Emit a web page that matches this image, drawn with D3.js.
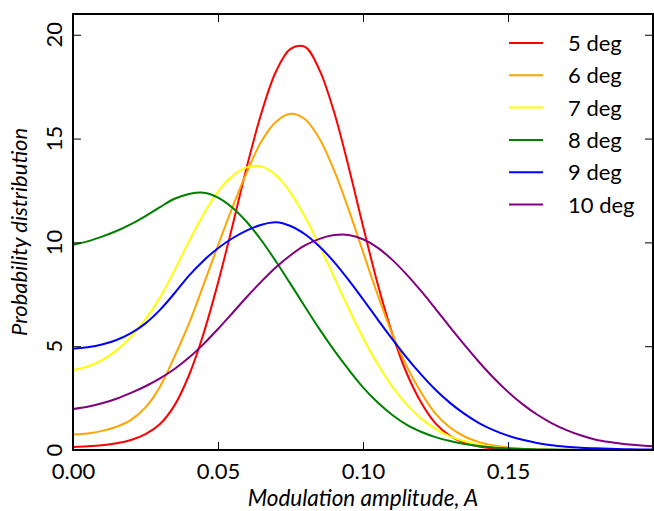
<!DOCTYPE html>
<html>
<head>
<meta charset="utf-8">
<script src="https://cdn.jsdelivr.net/npm/d3@7"></script>
<style>
  html, body { margin: 0; padding: 0; background: #fff; }
  svg { display: block; }
  text { font-family: Lato, "DejaVu Sans", sans-serif; fill: #000; }
</style>
</head>
<body>
<svg id="chart" width="654" height="511"></svg>
<script>
// ---- data ----
const amplitude = [0,0.005,0.01,0.015,0.02,0.025,0.03,0.035,0.04,0.045,0.05,0.055,0.06,0.065,0.07,0.075,0.08,0.085,0.09,0.095,0.1,0.105,0.11,0.115,0.12,0.125,0.13,0.135,0.14,0.145,0.15,0.155,0.16,0.165,0.17,0.175,0.18,0.185,0.19,0.195,0.2];
const deg5  = [0.15,0.18,0.23,0.32,0.48,0.76,1.25,2.15,3.6,5.6,8.05,10.8,13.67,16.24,18.23,19.32,19.42,18.3,16.29,13.66,10.79,8.03,5.64,3.72,2.3,1.28,0.68,0.35,0.17,0.08,0.04,0.02,0.01,0.005,0,0,0,0,0,0,0];
const deg6  = [0.75,0.8,0.92,1.12,1.45,2.05,3.05,4.5,6.1,7.95,9.85,11.7,13.4,14.87,15.81,16.19,15.93,14.99,13.48,11.6,9.54,7.5,5.63,4.05,2.78,1.75,1.08,0.65,0.38,0.22,0.12,0.06,0.03,0.015,0.008,0.004,0,0,0,0,0];
const deg7  = [3.85,4.02,4.33,4.8,5.45,6.3,7.35,8.65,10.05,11.35,12.45,13.2,13.62,13.66,13.23,12.4,11.23,9.84,8.34,6.83,5.41,4.15,3.07,2.2,1.52,1.02,0.66,0.42,0.25,0.15,0.08,0.045,0.025,0.012,0.006,0.003,0,0,0,0,0];
const deg8  = [9.89,10.05,10.28,10.55,10.88,11.27,11.7,12.1,12.33,12.39,12.16,11.67,10.97,10.09,9.08,8.0,6.9,5.82,4.81,3.88,3.02,2.3,1.7,1.22,0.88,0.62,0.43,0.29,0.19,0.12,0.08,0.05,0.03,0.02,0.01,0.005,0,0,0,0,0];
const deg9  = [4.88,4.95,5.08,5.3,5.63,6.1,6.75,7.55,8.4,9.12,9.72,10.2,10.58,10.85,10.97,10.79,10.39,9.8,9.06,8.19,7.26,6.3,5.36,4.46,3.64,2.9,2.27,1.74,1.3,0.96,0.69,0.49,0.34,0.23,0.16,0.11,0.08,0.055,0.04,0.03,0.02];
const deg10 = [1.97,2.08,2.25,2.47,2.75,3.07,3.45,3.9,4.45,5.1,5.83,6.6,7.38,8.12,8.8,9.38,9.85,10.17,10.35,10.36,10.15,9.75,9.17,8.46,7.66,6.8,5.92,5.06,4.24,3.48,2.8,2.21,1.71,1.3,0.97,0.71,0.51,0.38,0.29,0.23,0.18];

const seriesNames  = ["5 deg","6 deg","7 deg","8 deg","9 deg","10 deg"];
const seriesValues = [deg5, deg6, deg7, deg8, deg9, deg10];
const seriesColors = ["#ff0000","#ffa500","#ffff00","#008000","#0000ff","#800080"];

const xTicks = [0, 0.05, 0.10, 0.15];
const xTickLabels = ["0.00","0.05","0.10","0.15"];
const yTicks = [0, 5, 10, 15, 20];
const yTickLabels = ["0","5","10","15","20"];
const xLabel = "Modulation amplitude, A";
const yLabel = "Probability distribution";

// ---- layout ----
const svg = d3.select("#chart");
const L = 73, R = 653, T = 14, B = 450;
const x = d3.scaleLinear().domain([0, 0.2]).range([L, R]);
const y = d3.scaleLinear().domain([0, 21]).range([B, T]);

svg.append("defs").append("clipPath").attr("id","clip")
  .append("rect").attr("x", L).attr("y", T).attr("width", R - L).attr("height", B - T);

// curves
const line = d3.line()
  .x((d, i) => x(amplitude[i]))
  .y(d => y(d))
  .curve(d3.curveCatmullRom.alpha(0.5));

const g = svg.append("g").attr("clip-path","url(#clip)");
seriesValues.forEach((vals, k) => {
  g.append("path")
    .attr("d", line(vals))
    .attr("fill","none")
    .attr("stroke", seriesColors[k])
    .attr("stroke-width", 2);
});

// ticks (inward, all four sides)
const tickLen = 8;
const axisBottom = d3.axisBottom(x).tickValues(xTicks).tickSizeInner(-tickLen).tickSizeOuter(0)
  .tickFormat((d, i) => xTickLabels[i]).tickPadding(13);
const axisTop = d3.axisTop(x).tickValues(xTicks).tickSizeInner(-tickLen).tickSizeOuter(0).tickFormat("");
const axisLeft = d3.axisLeft(y).tickValues(yTicks).tickSizeInner(-tickLen).tickSizeOuter(0).tickFormat("");
const axisRight = d3.axisRight(y).tickValues(yTicks).tickSizeInner(-tickLen).tickSizeOuter(0).tickFormat("");

function styleAxis(sel) {
  sel.select(".domain").remove();
  sel.selectAll(".tick line").attr("stroke","#000").attr("stroke-width",1);
}
const gb = svg.append("g").attr("transform",`translate(0,${B})`).call(axisBottom).call(styleAxis);
gb.selectAll(".tick text").attr("font-size", 22).attr("font-family","Lato").attr("fill","#000");
svg.append("g").attr("transform",`translate(0,${T})`).call(axisTop).call(styleAxis);
svg.append("g").attr("transform",`translate(${L},0)`).call(axisLeft).call(styleAxis);
svg.append("g").attr("transform",`translate(${R},0)`).call(axisRight).call(styleAxis);

// rotated y tick labels
svg.append("g").selectAll("text").data(yTicks).join("text")
  .attr("transform", d => `translate(62,${y(d)}) rotate(-90)`)
  .attr("text-anchor","middle")
  .attr("font-size", 22)
  .text((d, i) => yTickLabels[i]);

// frame
svg.append("rect").attr("x", L).attr("y", T).attr("width", R - L).attr("height", B - T)
  .attr("fill","none").attr("stroke","#000").attr("stroke-width",2);

// axis labels
svg.append("text").attr("x", (L + R) / 2).attr("y", 505.5)
  .attr("text-anchor","middle").attr("font-size", 22.5).attr("font-style","italic")
  .text(xLabel);
svg.append("text").attr("transform", `translate(27,${(T + B) / 2}) rotate(-90)`)
  .attr("text-anchor","middle").attr("font-size", 22).attr("font-style","italic")
  .text(yLabel);

// legend
const legY0 = 43, legDY = 32.3;
const leg = svg.append("g");
seriesNames.forEach((name, k) => {
  const yy = legY0 + k * legDY;
  leg.append("line").attr("x1", 509).attr("x2", 543).attr("y1", yy).attr("y2", yy)
    .attr("stroke", seriesColors[k]).attr("stroke-width", 2);
  leg.append("text").attr("x", 568).attr("y", yy + 8).attr("font-size", 22).text(name);
});
</script>
</body>
</html>
